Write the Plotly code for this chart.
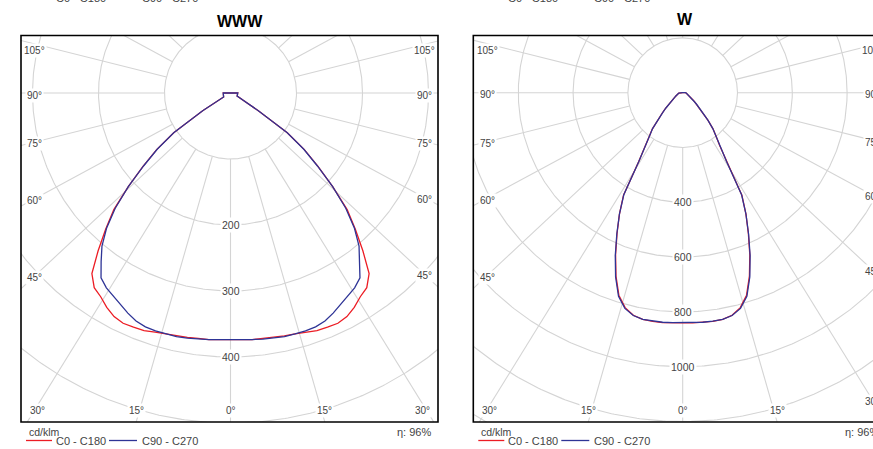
import numpy as np
import plotly.graph_objects as go

# ---------------- data ----------------
GAMMA = [0, 2.5, 5, 7.5, 10, 12.5, 15, 17.5, 20, 22.5, 25, 27.5, 30,
         32.5, 35, 37.5, 40, 42.5, 45, 47.5, 50, 52.5, 55, 57.5, 60,
         62.5, 65, 67.5, 70, 72.5, 75, 77.5, 80, 82.5, 85, 87.5, 90, 180]

WWW_C0_C180 = [374, 374, 375, 375, 376, 377, 378, 380, 383, 384, 385, 382, 375,
               366, 360, 345, 312, 280, 250, 210, 173, 141, 105, 50, 12,
               11, 11, 11, 11, 11, 11, 11, 11, 11, 11, 11, 11, 0]
WWW_C90_C270 = [374, 374, 375, 376, 377, 378, 378, 378, 377, 374, 368, 361, 355,
                350, 342, 322, 303, 278, 247, 210, 172, 140, 105, 50, 12,
                11, 11, 11, 11, 11, 11, 11, 11, 11, 11, 11, 11, 0]

W_C0_C180 = [840, 841, 842, 842, 840, 832, 812, 775, 712, 640, 567, 500, 432,
             300, 236, 200, 172, 137, 106, 85, 68, 55, 46, 38, 33,
             30, 27, 25, 23, 21, 19, 17.5, 16, 14.5, 13, 11.5, 10, 0]
W_C90_C270 = [838, 840, 841, 841, 840, 833, 815, 779, 716, 643, 569, 500, 430,
              298, 235, 199, 171, 136, 105, 84, 67, 54, 45, 38, 33,
              30, 27, 25, 23, 21, 19, 17.5, 16, 14.5, 13, 11.5, 10, 0]

PANEL_TITLES = ["WWW", "W"]
WWW_RINGS = [100, 200, 300, 400, 500, 600]
WWW_RING_LABELS = [200, 300, 400]
W_RINGS = [200, 400, 600, 800, 1000, 1200, 1400]
W_RING_LABELS = [400, 600, 800, 1000]
RAY_ANGLES = [0, 15, 30, 45, 60, 75, 90, 105, 120, 135, 150, 165, 180]
ANGLE_LABELS = [0, 15, 30, 45, 60, 75, 90, 105]
SERIES_NAMES = ["C0 - C180", "C90 - C270"]
UNIT = "cd/klm"
EFFICIENCY = "η: 96%"

# ---------------- style / layout ----------------
W, H = 873, 449
RED = "rgb(236,28,36)"
BLUE = "rgb(46,52,150)"
GRID = "rgb(212,212,212)"
TXT = "#444444"
FONT = "Liberation Sans, Arial, sans-serif"
K_STRETCH = 1.07  # the grid rays are drawn in a slightly stretched frame

panels = [
    dict(title=PANEL_TITLES[0], curves=(WWW_C0_C180, WWW_C90_C270),
         rings=WWW_RINGS, ring_labels=WWW_RING_LABELS,
         box=(21.0, 438.0, 35.5, 422.0), center=(230.5, 93.0), scale=0.66,
         title_xy=(240, 21)),
    dict(title=PANEL_TITLES[1], curves=(W_C0_C180, W_C90_C270),
         rings=W_RINGS, ring_labels=W_RING_LABELS,
         box=(473.3, 886.0, 35.5, 422.0), center=(682.7, 92.7), scale=0.274,
         title_xy=(685, 19)),
]

fig = go.Figure()
annotations = []
shapes = []
layout_axes = {}


def px2paper(xp, yp):
    return xp / W, 1 - yp / H


def ann(xp, yp, text, size, color=TXT, xanchor="center", bg=None):
    a, b = px2paper(xp, yp)
    d = dict(x=a, y=b, xref="paper", yref="paper", text=text, showarrow=False,
             xanchor=xanchor, yanchor="middle",
             font=dict(family=FONT, size=size, color=color))
    if bg:
        d.update(bgcolor=bg, borderpad=1)
    annotations.append(d)


for i, p in enumerate(panels):
    suf = "" if i == 0 else str(i + 1)
    xr, yr = "x" + suf, "y" + suf
    x0, x1, y0, y1 = p["box"]
    cx, cy = p["center"]
    s = p["scale"]
    vx1 = min(x1, W)
    layout_axes["xaxis" + suf] = dict(domain=[x0 / W, vx1 / W],
                                      range=[(x0 - cx) / s, (vx1 - cx) / s],
                                      visible=False, fixedrange=True, anchor=yr)
    layout_axes["yaxis" + suf] = dict(domain=[1 - y1 / H, 1 - y0 / H],
                                      range=[-(y1 - cy) / s, (cy - y0) / s],
                                      visible=False, fixedrange=True, anchor=xr)
    bx0, bx1 = (x0 - cx) / s, (x1 - cx) / s
    byb, byt = -(y1 - cy) / s, (cy - y0) / s

    # rings
    t = np.linspace(0, 2 * np.pi, 721)
    gx, gy = [], []
    for r in p["rings"]:
        gx += list(r * np.cos(t)) + [None]
        gy += list(r * np.sin(t)) + [None]
    # rays
    r_in, r_out = p["rings"][0], p["rings"][-1] * 3
    for th in RAY_ANGLES:
        rad = np.radians(th)
        for sd in ([1] if th in (0, 180) else [-1, 1]):
            ux, uy = sd * K_STRETCH * np.sin(rad), -np.cos(rad)
            n = np.hypot(ux, uy)
            ux, uy = ux / n, uy / n
            gx += [r_in * ux, r_out * ux, None]
            gy += [r_in * uy, r_out * uy, None]
    fig.add_trace(go.Scatter(x=gx, y=gy, mode="lines", xaxis=xr, yaxis=yr,
                             line=dict(color=GRID, width=1.1),
                             hoverinfo="skip", showlegend=False))

    # curves
    g = np.radians(GAMMA)
    full_g = np.concatenate([-g[::-1], g[1:]])
    for vals, col, name in [(p["curves"][0], RED, SERIES_NAMES[0]),
                            (p["curves"][1], BLUE, SERIES_NAMES[1])]:
        I = np.asarray(vals, dtype=float)
        full_I = np.concatenate([I[::-1], I[1:]])
        fig.add_trace(go.Scatter(x=full_I * np.sin(full_g), y=-full_I * np.cos(full_g),
                                 mode="lines", xaxis=xr, yaxis=yr, name=name,
                                 line=dict(color=col, width=1.3),
                                 showlegend=False))

    # ring labels
    for r in p["ring_labels"]:
        annotations.append(dict(x=0, y=-r, xref=xr, yref=yr, text=str(r),
                                showarrow=False, bgcolor="white", borderpad=1,
                                xanchor="center", yanchor="middle",
                                font=dict(family=FONT, size=10.5, color=TXT)))

    # angle labels
    for th in ANGLE_LABELS:
        rad = np.radians(th)
        for sd in ([0] if th == 0 else [-1, 1]):
            ux, uy = sd * K_STRETCH * np.sin(rad), -np.cos(rad)
            edge = bx0 if sd < 0 else bx1
            t_side = edge / ux if ux != 0 else np.inf
            if uy < -1e-9:
                t_v = byb / uy
            elif uy > 1e-9:
                t_v = byt / uy
            else:
                t_v = np.inf
            if t_v <= t_side:
                xl = min(max(t_v * ux, bx0 + 16 / s), bx1 - 16 / s)
                yl = byb + 12 / s
            else:
                xl = edge - sd * 14 / s
                yl = xl * uy / ux
                yl = min(yl, byt - 13 / s) - 2 / s
            ann(cx + xl * s, cy - yl * s, f"{th}°", 10, bg="white")

    # frame
    fx0, fy0 = px2paper(x0, y1)
    fx1, fy1 = px2paper(x1, y0)
    shapes.append(dict(type="rect", xref="paper", yref="paper", x0=fx0, x1=fx1,
                       y0=fy0, y1=fy1, line=dict(color="black", width=1.6),
                       layer="above"))

    # title
    ann(p["title_xy"][0], p["title_xy"][1], f"<b>{p['title']}</b>", 16, color="black")

    # bottom info & legend
    ann(x0 + 6, 432, UNIT, 10.5, xanchor="left")
    ann(x1 - 5, 432, EFFICIENCY, 11, xanchor="right")
    for row_y, draw_lines in [(440.5, True), (-2.0, False)]:
        for (col, lx0, lx1, tx0, name) in [(RED, 5, 31, 33, SERIES_NAMES[0]),
                                           (BLUE, 88, 116, 118.5, SERIES_NAMES[1])]:
            if draw_lines:
                a0, b0 = px2paper(x0 + lx0, row_y)
                a1, _ = px2paper(x0 + lx1, row_y)
                shapes.append(dict(type="line", xref="paper", yref="paper",
                                   x0=a0, x1=a1, y0=b0, y1=b0,
                                   line=dict(color=col, width=1.3)))
            ann(x0 + tx0, row_y, name, 11, xanchor="left")

fig.update_layout(width=W, height=H, margin=dict(l=0, r=0, t=0, b=0),
                  paper_bgcolor="white", plot_bgcolor="white",
                  showlegend=False, annotations=annotations, shapes=shapes,
                  **layout_axes)

fig.write_html("out.html")
